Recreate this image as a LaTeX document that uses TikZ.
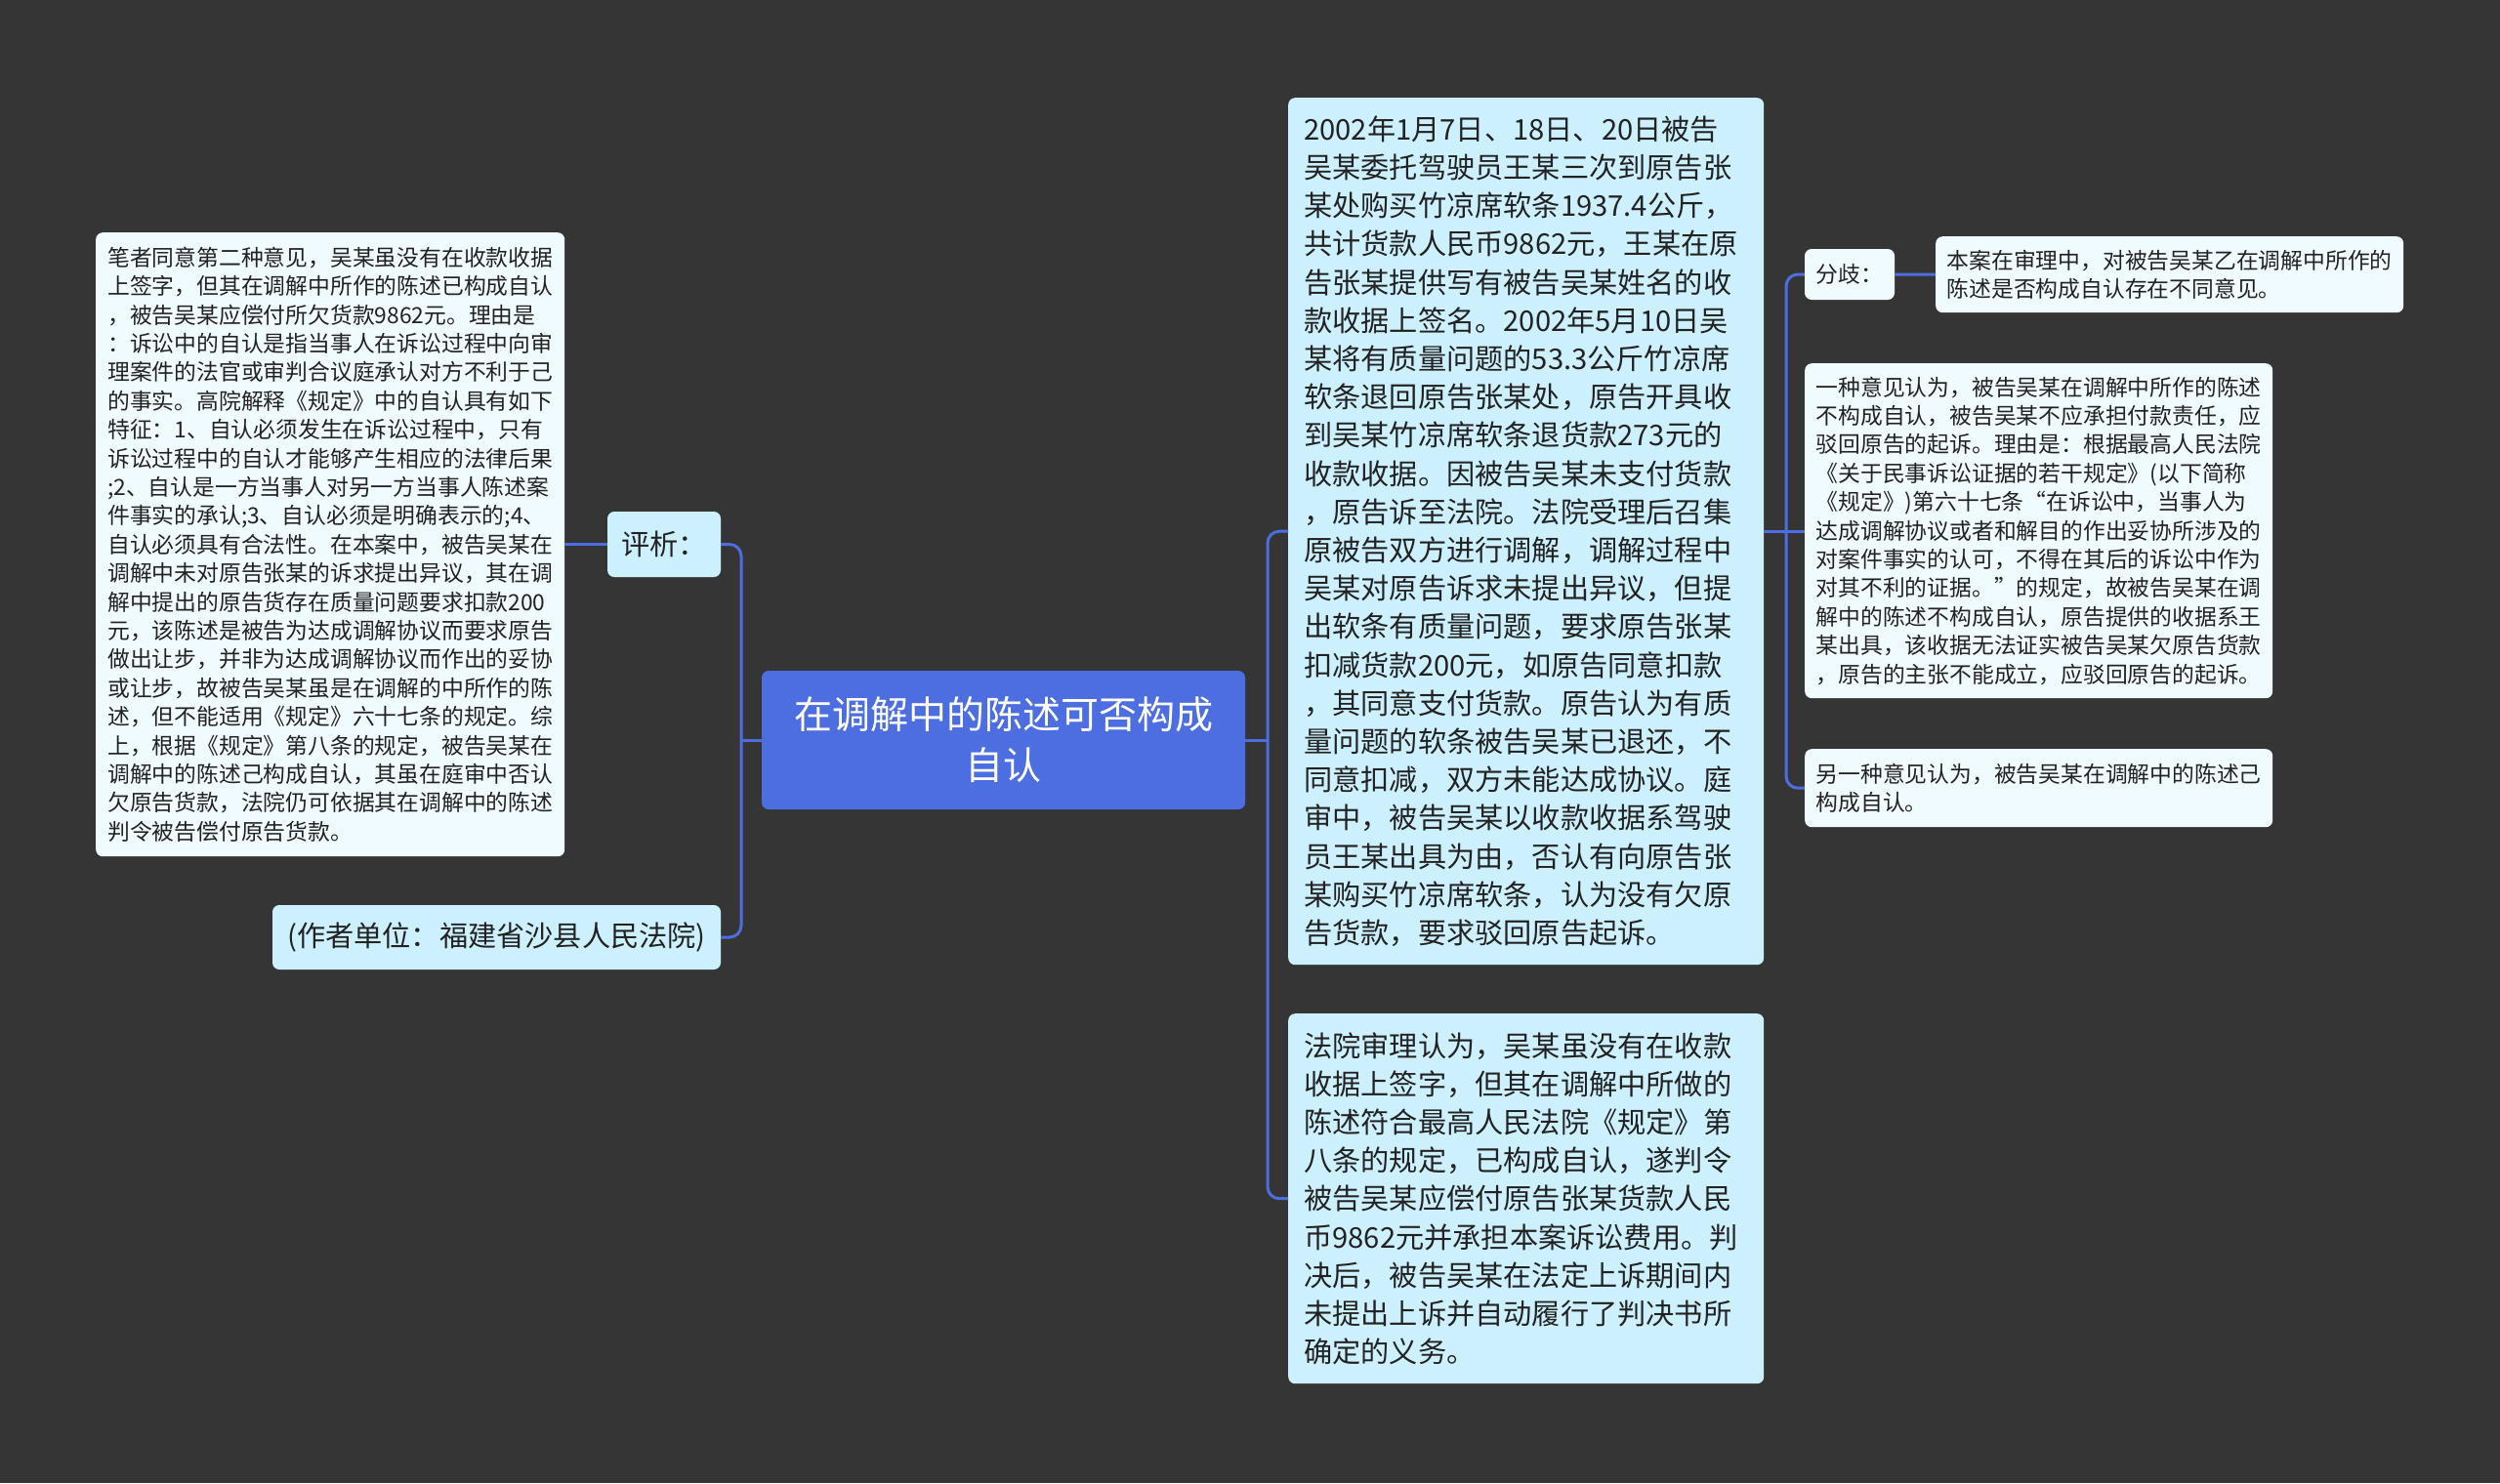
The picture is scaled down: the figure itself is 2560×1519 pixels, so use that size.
\documentclass[tikz,border=0pt]{standalone}
\usepackage{fontspec}
\setmainfont{Noto Sans CJK SC}
\definecolor{bgc}{RGB}{53,53,53}
\definecolor{rootc}{RGB}{76,110,224}
\definecolor{linec}{RGB}{76,110,224}
\definecolor{lvone}{RGB}{204,240,253}
\definecolor{lvtwo}{RGB}{240,251,255}
\definecolor{txt}{RGB}{34,34,34}
\tikzset{
  box/.style={rounded corners=7pt, inner ysep=0pt, text=txt},
  rootbox/.style={box, fill=rootc, text=white, align=center, inner xsep=0pt,
    font=\fontsize{39}{52}\selectfont},
  lvonebox/.style={box, fill=lvone, font=\fontsize{29.2}{39.2}\selectfont},
  leafbox/.style={box, fill=lvtwo, font=\fontsize{22.8}{29.4}\selectfont},
  conn/.style={draw=linec, line width=3pt},
}
\begin{document}
\begin{tikzpicture}[x=1pt,y=-1pt]
\fill[bgc] (0,0) rectangle (2560,1519);
\useasboundingbox (0,0) rectangle (2560,1519);

% root
\node[rootbox, minimum width=495pt, minimum height=142pt] (root) at (1027.5,758)
  {在调解中的陈述可否构成\\自认};

% left side
\node[lvonebox, align=center, inner xsep=0pt, minimum width=116pt, minimum height=67pt] (pingxi) at (680,557.5) {评析：};
\node[lvonebox, align=center, inner xsep=0pt, minimum width=459pt, minimum height=66pt] (zuozhe) at (508.5,960) {(作者单位：福建省沙县人民法院)};

\node[leafbox, anchor=north west, align=left, inner xsep=12pt, text width=456pt, minimum height=639pt] (leftleaf) at (98,238)
  {笔者同意第二种意见，吴某虽没有在收款收据\\
   上签字，但其在调解中所作的陈述已构成自认\\
   ，被告吴某应偿付所欠货款9862元。理由是\\
   ：诉讼中的自认是指当事人在诉讼过程中向审\\
   理案件的法官或审判合议庭承认对方不利于己\\
   的事实。高院解释《规定》中的自认具有如下\\
   特征：1、自认必须发生在诉讼过程中，只有\\
   诉讼过程中的自认才能够产生相应的法律后果\\
   ;2、自认是一方当事人对另一方当事人陈述案\\
   件事实的承认;3、自认必须是明确表示的;4、\\
   自认必须具有合法性。在本案中，被告吴某在\\
   调解中未对原告张某的诉求提出异议，其在调\\
   解中提出的原告货存在质量问题要求扣款200\\
   元，该陈述是被告为达成调解协议而要求原告\\
   做出让步，并非为达成调解协议而作出的妥协\\
   或让步，故被告吴某虽是在调解的中所作的陈\\
   述，但不能适用《规定》六十七条的规定。综\\
   上，根据《规定》第八条的规定，被告吴某在\\
   调解中的陈述己构成自认，其虽在庭审中否认\\
   欠原告货款，法院仍可依据其在调解中的陈述\\
   判令被告偿付原告货款。};

% right side
\node[lvonebox, anchor=north west, align=left, inner xsep=16pt, text width=455pt, minimum height=888pt] (fact) at (1319,100)
  {2002年1月7日、18日、20日被告\\
   吴某委托驾驶员王某三次到原告张\\
   某处购买竹凉席软条1937.4公斤，\\
   共计货款人民币9862元，王某在原\\
   告张某提供写有被告吴某姓名的收\\
   款收据上签名。2002年5月10日吴\\
   某将有质量问题的53.3公斤竹凉席\\
   软条退回原告张某处，原告开具收\\
   到吴某竹凉席软条退货款273元的\\
   收款收据。因被告吴某未支付货款\\
   ，原告诉至法院。法院受理后召集\\
   原被告双方进行调解，调解过程中\\
   吴某对原告诉求未提出异议，但提\\
   出软条有质量问题，要求原告张某\\
   扣减货款200元，如原告同意扣款\\
   ，其同意支付货款。原告认为有质\\
   量问题的软条被告吴某已退还，不\\
   同意扣减，双方未能达成协议。庭\\
   审中，被告吴某以收款收据系驾驶\\
   员王某出具为由，否认有向原告张\\
   某购买竹凉席软条，认为没有欠原\\
   告货款，要求驳回原告起诉。};

\node[lvonebox, anchor=north west, align=left, inner xsep=16pt, text width=455pt, minimum height=379pt] (judge) at (1319,1038)
  {法院审理认为，吴某虽没有在收款\\
   收据上签字，但其在调解中所做的\\
   陈述符合最高人民法院《规定》第\\
   八条的规定，已构成自认，遂判令\\
   被告吴某应偿付原告张某货款人民\\
   币9862元并承担本案诉讼费用。判\\
   决后，被告吴某在法定上诉期间内\\
   未提出上诉并自动履行了判决书所\\
   确定的义务。};

\node[leafbox, align=center, inner xsep=0pt, minimum width=92pt, minimum height=52pt] (fenqi) at (1894,281) {分歧：};

\node[leafbox, anchor=north west, align=left, inner xsep=11.5pt, text width=456pt, minimum height=78pt] (benan) at (1982,242)
  {本案在审理中，对被告吴某乙在调解中所作的\\
   陈述是否构成自认存在不同意见。};

\node[leafbox, anchor=north west, align=left, inner xsep=11.5pt, text width=456pt, minimum height=343pt] (yizhong) at (1848,372)
  {一种意见认为，被告吴某在调解中所作的陈述\\
   不构成自认，被告吴某不应承担付款责任，应\\
   驳回原告的起诉。理由是：根据最高人民法院\\
   《关于民事诉讼证据的若干规定》(以下简称\\
   《规定》)第六十七条“在诉讼中，当事人为\\
   达成调解协议或者和解目的作出妥协所涉及的\\
   对案件事实的认可，不得在其后的诉讼中作为\\
   对其不利的证据。”的规定，故被告吴某在调\\
   解中的陈述不构成自认，原告提供的收据系王\\
   某出具，该收据无法证实被告吴某欠原告货款\\
   ，原告的主张不能成立，应驳回原告的起诉。};

\node[leafbox, anchor=north west, align=left, inner xsep=11.5pt, text width=456pt, minimum height=80pt] (lingyi) at (1848,767)
  {另一种意见认为，被告吴某在调解中的陈述己\\
   构成自认。};

% junctions
\coordinate (jL) at (759,758);
\coordinate (jR) at (1298,758);
\coordinate (jF) at (1829,544);

% connectors
\draw[conn] (root.west) -- (jL);
\draw[conn, rounded corners=12pt] (pingxi.east) -| (jL) |- (zuozhe.east);
\draw[conn] (pingxi.west) -- (leftleaf.east |- pingxi.west);

\draw[conn] (root.east) -- (jR);
\draw[conn, rounded corners=12pt] (fact.west) -| (jR) |- (judge.west);

\draw[conn] (fact.east) -- (yizhong.west |- fact.east);
\draw[conn, rounded corners=12pt] (fenqi.west) -| (jF) |- (lingyi.west);
\draw[conn] (fenqi.east) -- (benan.west);
\end{tikzpicture}
\end{document}
